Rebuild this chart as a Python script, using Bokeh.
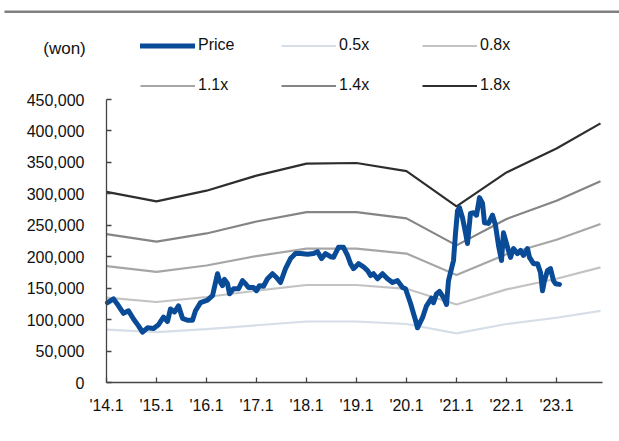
from bokeh.plotting import figure
from bokeh.models import (Range1d, FixedTicker, NumeralTickFormatter, Legend,
                          LegendItem, Label, BoxAnnotation)
from bokeh.embed import file_html
from bokeh.resources import INLINE

# ---------------- data ----------------
band_x = [2014, 2015, 2016, 2017, 2018, 2019, 2020, 2021, 2022, 2023, 2023.88]
band_05 = [84000, 80000, 85000, 91000, 97000, 97000, 93000, 78000, 93000, 103000, 114000]
band_08 = [135000, 128000, 136000, 146000, 155000, 155000, 149000, 124000, 148000, 165000, 183000]
band_11 = [185000, 176000, 186000, 201000, 213000, 213000, 205000, 171000, 204000, 227000, 252000]
band_14 = [236000, 224000, 237000, 256000, 271000, 271000, 261000, 218000, 260000, 289000, 320000]
band_18 = [303000, 288000, 305000, 329000, 348000, 349000, 336000, 280000, 334000, 372000, 412000]

price_x = [2014.02, 2014.14, 2014.24, 2014.34, 2014.44, 2014.54, 2014.64, 2014.72, 2014.82, 2014.94,
           2015.04, 2015.14, 2015.22, 2015.28, 2015.36, 2015.44, 2015.52, 2015.62, 2015.72, 2015.78,
           2015.88, 2016.02, 2016.12, 2016.22, 2016.26, 2016.32, 2016.36, 2016.42, 2016.46, 2016.54,
           2016.64, 2016.72, 2016.78, 2016.84, 2016.94, 2017.00, 2017.06, 2017.14, 2017.22, 2017.32,
           2017.40, 2017.48, 2017.58, 2017.68, 2017.78, 2017.88, 2018.02, 2018.14, 2018.22, 2018.30,
           2018.38, 2018.48, 2018.54, 2018.64, 2018.74, 2018.82, 2018.88, 2018.94, 2019.04, 2019.14,
           2019.22, 2019.28, 2019.34, 2019.42, 2019.52, 2019.62, 2019.72, 2019.82, 2019.92, 2019.98,
           2020.08, 2020.18, 2020.22, 2020.32, 2020.40, 2020.50, 2020.54, 2020.60, 2020.66, 2020.74,
           2020.80, 2020.84, 2020.90, 2020.94, 2020.98, 2021.02, 2021.06, 2021.12, 2021.18, 2021.22,
           2021.28, 2021.34, 2021.40, 2021.46, 2021.52, 2021.56, 2021.64, 2021.72, 2021.78, 2021.84,
           2021.90, 2021.94, 2022.02, 2022.08, 2022.14, 2022.22, 2022.28, 2022.34, 2022.42, 2022.46,
           2022.54, 2022.62, 2022.68, 2022.72, 2022.76, 2022.82, 2022.88, 2022.94, 2022.98, 2023.06]
price = [127000, 133000, 122000, 110000, 114000, 101000, 90000, 80000, 87000, 86000,
         92000, 104000, 97000, 117000, 112000, 122000, 102000, 99000, 99000, 114000,
         127000, 131000, 138000, 173000, 162000, 154000, 164000, 157000, 141000, 149000,
         149000, 162000, 157000, 151000, 151000, 146000, 154000, 153000, 165000, 173000,
         167000, 159000, 181000, 197000, 205000, 205000, 204000, 205000, 208000, 197000,
         205000, 200000, 199000, 215000, 215000, 202000, 189000, 181000, 189000, 184000,
         178000, 170000, 173000, 165000, 173000, 165000, 159000, 162000, 151000, 149000,
         126000, 99000, 87000, 103000, 122000, 134000, 127000, 141000, 145000, 135000,
         124000, 162000, 181000, 194000, 237000, 273000, 278000, 262000, 238000, 221000,
         269000, 270000, 266000, 294000, 285000, 254000, 253000, 266000, 250000, 218000,
         194000, 238000, 215000, 199000, 213000, 205000, 210000, 202000, 213000, 199000,
         189000, 189000, 175000, 146000, 162000, 178000, 181000, 162000, 157000, 156000]

x_tick_years = [2014, 2015, 2016, 2017, 2018, 2019, 2020, 2021, 2022, 2023]
x_tick_labels = ["'14.1", "'15.1", "'16.1", "'17.1", "'18.1", "'19.1", "'20.1", "'21.1", "'22.1", "'23.1"]
y_ticks = [0, 50000, 100000, 150000, 200000, 250000, 300000, 350000, 400000, 450000]
x_axis_span = (2014, 2023.92)
y_axis_span = (0, 450000)

series_names = ["0.5x", "0.8x", "1.1x", "1.4x", "1.8x"]
series_vals = [band_05, band_08, band_11, band_14, band_18]
series_colors = ["#D6DEE8", "#C3C3C3", "#A6A6A6", "#858585", "#2E2E2E"]

FONT = "Liberation Sans"
AXIS_COLOR = "#444444"
W, H = 619, 441
# frame covers the whole canvas; axes are pinned with fixed_location
# plot area in pixels: x 106..602 (2014..2023.92), y 382..99 (0..450000)
px_per_year = 50.0
px_per_val = 283.0 / 450000.0
x_start = 2014 - 106 / px_per_year
x_end = 2014 + (W - 106) / px_per_year
y_start = -(H - 382) / px_per_val
y_end = 382 / px_per_val

p = figure(width=W, height=H, output_backend="svg", toolbar_location=None,
           x_range=Range1d(x_start, x_end), y_range=Range1d(y_start, y_end),
           min_border=0)
p.xgrid.visible = False
p.ygrid.visible = False
p.outline_line_color = None
p.background_fill_color = "white"
p.border_fill_color = "white"

band_renderers = {}
for name, vals, col in zip(series_names, series_vals, series_colors):
    band_renderers[name] = p.line(band_x, vals, line_color=col, line_width=2.2)

price_r = p.line(price_x, price, line_color="#0A4B97", line_width=5,
                 line_join="round", line_cap="round")

# axes
for ax in (p.xaxis[0], p.yaxis[0]):
    ax.axis_line_color = AXIS_COLOR
    ax.axis_line_width = 1.3
    ax.major_tick_line_color = AXIS_COLOR
    ax.major_tick_line_width = 1.3
    ax.major_tick_in = 5
    ax.major_tick_out = 0
    ax.minor_tick_line_color = None
    ax.major_label_text_font = FONT
    ax.major_label_text_font_size = "16px"
    ax.major_label_text_color = "#111111"

p.xaxis.fixed_location = 0
p.xaxis.bounds = x_axis_span
p.xaxis.ticker = FixedTicker(ticks=x_tick_years)
p.xaxis.major_label_overrides = {yr: lab for yr, lab in zip(x_tick_years, x_tick_labels)}
p.xaxis.major_label_standoff = 14
p.yaxis.fixed_location = 2014
p.yaxis.bounds = y_axis_span
p.yaxis.ticker = FixedTicker(ticks=y_ticks)
p.yaxis.formatter = NumeralTickFormatter(format="0,0")
p.yaxis.major_label_standoff = 22

# legend
items = [LegendItem(label="Price", renderers=[price_r])]
items += [LegendItem(label=n, renderers=[band_renderers[n]]) for n in series_names]
legend = Legend(items=items, orientation="horizontal", ncols=3,
                location=(140, H - 102.5), glyph_width=55, glyph_height=35,
                label_height=35, label_width=78, label_standoff=3, spacing=5,
                padding=0, margin=0, border_line_color=None,
                background_fill_alpha=0, label_text_font=FONT,
                label_text_font_size="16px", label_text_color="#111111")
p.add_layout(legend, "center")

p.add_layout(Label(x=64, y=H - 48, x_units="screen", y_units="screen", text="(won)",
                   text_align="center", text_baseline="middle", text_font=FONT,
                   text_font_size="17px", text_color="#111111"))

p.add_layout(BoxAnnotation(left=4, right=W, top=H - 10, bottom=H - 12.5,
                           left_units="screen", right_units="screen",
                           top_units="screen", bottom_units="screen",
                           fill_color="#808080", fill_alpha=1, line_color=None))

open("out.html", "w").write(file_html(p, INLINE))
